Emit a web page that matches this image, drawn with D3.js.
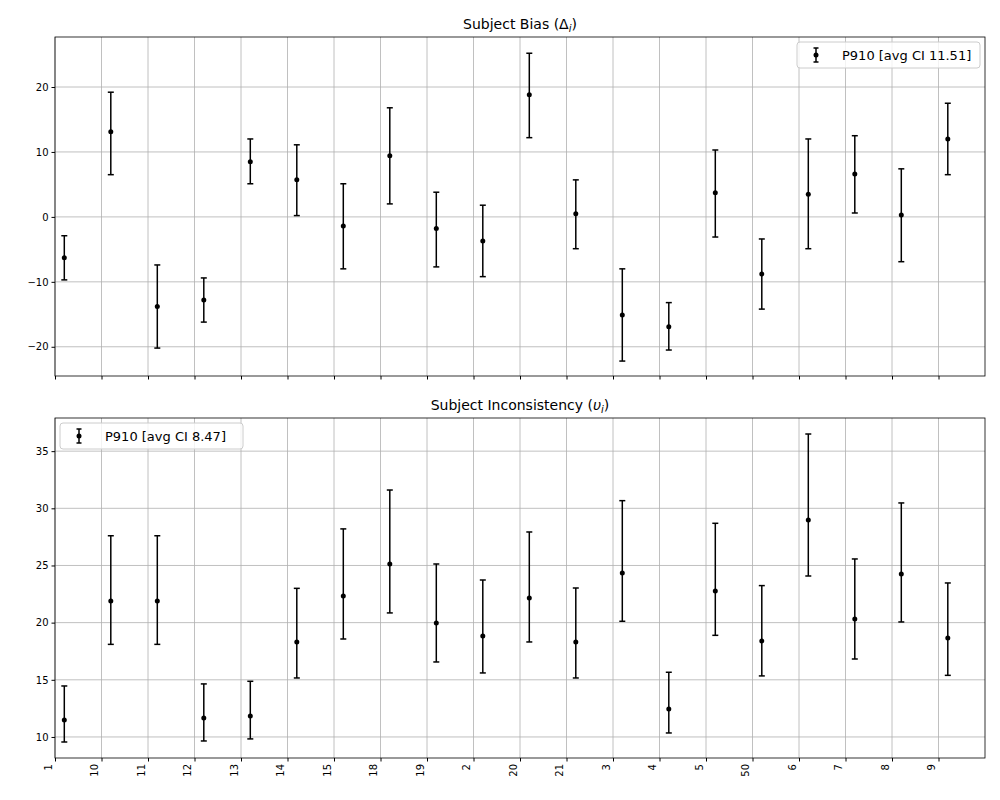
<!DOCTYPE html>
<html><head><meta charset="utf-8">
<script src="https://cdn.jsdelivr.net/npm/d3@7"></script>
<style>body{margin:0;background:#fff}text{font-family:"DejaVu Sans",sans-serif}</style>
</head><body><div id="chart"></div>
<script>
const categories = ["1","10","11","12","13","14","15","18","19","2","20","21","3","4","5","50","6","7","8","9"];
// subject bias: center, upper, lower
const biasMid = [-6.3,13.1,-13.8,-12.8,8.5,5.7,-1.4,9.4,-1.8,-3.7,18.8,0.5,-15.1,-16.9,3.7,-8.8,3.5,6.6,0.3,12.0];
const biasHi  = [-2.9,19.2,-7.4,-9.4,12.0,11.1,5.1,16.8,3.8,1.8,25.2,5.7,-8.0,-13.2,10.3,-3.4,12.0,12.5,7.4,17.5];
const biasLo  = [-9.7,6.5,-20.2,-16.2,5.1,0.2,-8.0,2.0,-7.7,-9.2,12.2,-4.9,-22.2,-20.5,-3.1,-14.2,-4.9,0.6,-6.9,6.5];
// subject inconsistency
const incMid = [11.49,21.9,21.9,11.66,11.84,18.3,22.33,25.13,19.97,18.83,22.16,18.31,24.34,12.45,22.77,18.4,28.98,20.32,24.26,18.66];
const incHi  = [14.46,27.6,27.6,14.64,14.87,23.0,28.2,31.6,25.13,23.73,27.93,23.03,30.67,15.66,28.69,23.24,36.5,25.57,30.47,23.47];
const incLo  = [9.56,18.1,18.1,9.65,9.83,15.16,18.57,20.85,16.56,15.6,18.31,15.16,20.12,10.35,18.89,15.34,24.08,16.82,20.06,15.39];
const biasTicks = [-20,-10,0,10,20];
const incTicks = [10,15,20,25,30,35];

const svg = d3.select("#chart").append("svg").attr("width",1000).attr("height",800);
const x = d3.scaleLinear().domain([0,20]).range([55,985]);

function panel(top, bottom, ydom, ticks, mid, hi, lo, title, legendText, legendRight, showLabels){
  const y = d3.scaleLinear().domain(ydom).range([bottom, top]);
  const g = svg.append("g");
  // grid
  g.selectAll(".vg").data(d3.range(20)).enter().append("line")
    .attr("x1", d => x(d)).attr("x2", d => x(d)).attr("y1", top).attr("y2", bottom)
    .attr("stroke","#b0b0b0").attr("stroke-width",0.8);
  g.selectAll(".hg").data(ticks).enter().append("line")
    .attr("x1",55).attr("x2",985).attr("y1", d => y(d)).attr("y2", d => y(d))
    .attr("stroke","#b0b0b0").attr("stroke-width",0.8);
  // axes
  const yAxis = g.append("g").attr("transform","translate(55,0)")
    .call(d3.axisLeft(y).tickValues(ticks).tickSize(3.5).tickFormat(d => d < 0 ? "\u2212" + Math.abs(d) : d));
  yAxis.select(".domain").remove();
  yAxis.selectAll("text").attr("font-size",10).attr("fill","#000");
  const xAxis = g.append("g").attr("transform",`translate(0,${bottom})`)
    .call(d3.axisBottom(x).tickValues(d3.range(20)).tickSize(3.5).tickFormat(i => showLabels ? categories[i] : ""));
  xAxis.select(".domain").remove();
  xAxis.selectAll("text").attr("font-size",10).attr("fill","#000")
    .attr("transform","rotate(-90)").attr("text-anchor","end").attr("x",-6).attr("y",-4).attr("dy","0");
  g.append("rect").attr("x",55).attr("y",top).attr("width",930).attr("height",bottom-top)
    .attr("fill","none").attr("stroke","#000").attr("stroke-width",0.8);
  // error bars
  const eb = g.selectAll(".eb").data(categories).enter().append("g");
  eb.append("line").attr("x1",(d,i)=>x(i+0.2)).attr("x2",(d,i)=>x(i+0.2))
    .attr("y1",(d,i)=>y(hi[i])).attr("y2",(d,i)=>y(lo[i])).attr("stroke","#000").attr("stroke-width",1.5);
  [hi, lo].forEach(arr => eb.append("line").attr("x1",(d,i)=>x(i+0.2)-3).attr("x2",(d,i)=>x(i+0.2)+3)
    .attr("y1",(d,i)=>y(arr[i])).attr("y2",(d,i)=>y(arr[i])).attr("stroke","#000").attr("stroke-width",1.5));
  eb.append("circle").attr("cx",(d,i)=>x(i+0.2)).attr("cy",(d,i)=>y(mid[i])).attr("r",2.5).attr("fill","#000");
  // title
  svg.append("text").attr("x",520).attr("y",top-8).attr("text-anchor","middle").attr("font-size",14).html(title);
  // legend
  const lw = 183, lx = legendRight ? 985 - 5 - lw : 60, ly = top + 5;
  const lg = svg.append("g");
  lg.append("rect").attr("x",lx).attr("y",ly).attr("width",lw).attr("height",26).attr("rx",3)
    .attr("fill","#fff").attr("fill-opacity",0.8).attr("stroke","#ccc");
  const mx = lx + 19, my = ly + 13;
  lg.append("line").attr("x1",mx).attr("x2",mx).attr("y1",my-7).attr("y2",my+7).attr("stroke","#000").attr("stroke-width",1.5);
  [my-7,my+7].forEach(v => lg.append("line").attr("x1",mx-2.5).attr("x2",mx+2.5).attr("y1",v).attr("y2",v).attr("stroke","#000").attr("stroke-width",1.5));
  lg.append("circle").attr("cx",mx).attr("cy",my).attr("r",2.5).attr("fill","#000");
  lg.append("text").attr("x",lx+45).attr("y",my+4.5).attr("font-size",13).text(legendText);
}

panel(37, 376, [-24.5,27.7], biasTicks, biasMid, biasHi, biasLo,
  'Subject Bias (\u0394<tspan font-style="italic" font-size="10" dy="3">i</tspan><tspan dy="-3">)</tspan>',
  "P910 [avg CI 11.51]", true, false);
panel(418, 758, [8.16,37.9], incTicks, incMid, incHi, incLo,
  'Subject Inconsistency (<tspan font-style="italic">\u03c5</tspan><tspan font-style="italic" font-size="10" dy="3">i</tspan><tspan dy="-3">)</tspan>',
  "P910 [avg CI 8.47]", false, true);
</script></body></html>
